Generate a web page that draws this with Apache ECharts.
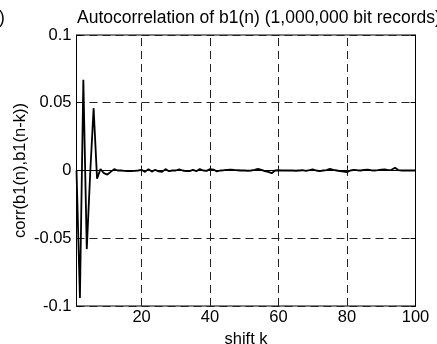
<!DOCTYPE html>
<html>
<head>
<meta charset="utf-8">
<script src="https://cdn.jsdelivr.net/npm/echarts@6/dist/echarts.min.js"></script>
<style>
html,body{margin:0;padding:0;background:#fff;}
#c{width:437px;height:344px;}
</style>
</head>
<body>
<div id="c"></div>
<script>
// shift k = 1..100 (index + 1)
const corrValues = [
  0.000, -0.094, 0.067, -0.058, -0.002, 0.046, -0.006, 0.001, -0.002, -0.003,
  -0.001, 0.001, 0.000, 0.000, -0.0003, -0.0005, -0.0005, -0.0003, 0.000, 0.0005,
  -0.001, 0.001, -0.0008, 0.0005, -0.0007, -0.001, 0.001, -0.0005, 0.000, 0.000,
  0.0008, 0.000, -0.0005, -0.0005, 0.0005, -0.0005, 0.001, 0.000, -0.0003, 0.001,
  0.0007, -0.0007, 0.000, 0.0002, 0.0005, 0.0007, 0.0004, 0.0002, 0.000, 0.000,
  -0.0002, 0.000, 0.0005, 0.0012, 0.0005, -0.0005, -0.001, -0.002, 0.000, 0.0002,
  0.000, 0.000, 0.000, 0.000, -0.0002, 0.000, 0.0002, -0.0003, 0.0002, 0.0008,
  0.000, -0.0004, 0.000, 0.0003, 0.0012, 0.0005, 0.000, -0.0005, -0.0008, -0.0012,
  0.000, 0.0005, 0.0002, 0.000, 0.0005, 0.0007, 0.0002, 0.000, 0.0003, 0.0007,
  0.0008, 0.0002, 0.0005, 0.002, 0.0003, 0.000, 0.000, 0.000, 0.000, 0.000
];
const xTicks = [20, 40, 60, 80, 100];
const xGrid = [20, 40, 60, 80];
const titleText = 'Autocorrelation of b1(n) (1,000,000 bit records)';
const xName = 'shift k';
const yName = 'corr(b1(n),b1(n-k))';

const FONT = 'Liberation Sans, Arial, sans-serif';
const chart = echarts.init(document.getElementById('c'), null, {renderer: 'canvas'});
const data = corrValues.map((v, i) => [i + 1, v]);

chart.setOption({
  animation: false,
  backgroundColor: '#fff',
  title: {
    text: titleText,
    left: 77,
    top: 9,
    padding: 0,
    textStyle: {fontFamily: FONT, fontSize: 17.5, fontWeight: 'normal', color: '#000'}
  },
  graphic: [{
    type: 'text', left: -1, top: 9,
    style: {text: ')', font: '17.5px ' + FONT, fill: '#000'}
  }],
  grid: {left: 76.5, right: 21.5, top: 35, bottom: 38, outerBoundsMode: 'none', containLabel: false,
    show: true, borderColor: '#000', borderWidth: 1, backgroundColor: '#fff'},
  xAxis: [{
    type: 'value', min: 1, max: 100, position: 'bottom',
    name: xName, nameLocation: 'middle', nameGap: 25, nameMoveOverlap: false,
    nameTextStyle: {fontFamily: FONT, fontSize: 16.5, color: '#000'},
    axisLine: {show: true, lineStyle: {color: '#000', width: 1}},
    axisTick: {show: true, inside: true, length: 5, customValues: xTicks, lineStyle: {color: '#000'}},
    axisLabel: {show: true, customValues: xTicks, margin: 3, fontFamily: FONT, fontSize: 16.5, color: '#000'},
    splitLine: {show: false}
  }, {
    type: 'value', min: 1, max: 100, position: 'top',
    axisLine: {show: true, lineStyle: {color: '#000', width: 1}},
    axisTick: {show: true, inside: true, length: 5, customValues: xTicks, lineStyle: {color: '#000'}},
    axisLabel: {show: false},
    splitLine: {show: false}
  }],
  yAxis: [{
    type: 'value', min: -0.1, max: 0.1, interval: 0.05, position: 'left',
    name: yName, nameLocation: 'middle', nameGap: 48, nameMoveOverlap: false,
    nameTextStyle: {fontFamily: FONT, fontSize: 16.5, color: '#000'},
    axisLine: {show: true, lineStyle: {color: '#000', width: 1}},
    axisTick: {show: true, inside: true, length: 5, lineStyle: {color: '#000'}},
    axisLabel: {margin: 5, fontFamily: FONT, fontSize: 16.5, color: '#000',
      formatter: v => String(Math.round(v * 100) / 100)},
    splitLine: {show: true, lineStyle: {color: '#222', type: [8, 5], width: 1}}
  }, {
    type: 'value', min: -0.1, max: 0.1, interval: 0.05, position: 'right',
    axisLine: {show: true, lineStyle: {color: '#000', width: 1}},
    axisTick: {show: true, inside: true, length: 5, lineStyle: {color: '#000'}},
    axisLabel: {show: false},
    splitLine: {show: false}
  }],
  series: [{
    type: 'line',
    data: data,
    xAxisIndex: 0, yAxisIndex: 0,
    showSymbol: false,
    lineStyle: {color: '#000', width: 1.8},
    z: 5,
    markLine: {
      silent: true, symbol: 'none', label: {show: false},
      lineStyle: {color: '#222', type: [8, 5], width: 1},
      data: xGrid.map(v => ({xAxis: v}))
    }
  }]
});
</script>
</body>
</html>
